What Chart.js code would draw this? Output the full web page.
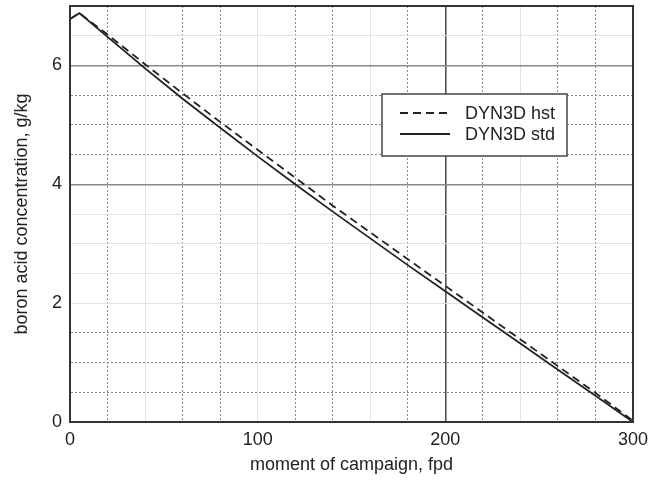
<!DOCTYPE html>
<html>
<head>
<meta charset="utf-8">
<script src="https://cdn.jsdelivr.net/npm/chart.js@4.4.1/dist/chart.umd.min.js"></script>
<style>
  html, body { margin: 0; padding: 0; background: #fff; }
  #wrap { width: 657px; height: 490px; position: relative; }
</style>
</head>
<body>
<div id="wrap"><canvas id="boronChart"></canvas></div>
<script>
// ===== boron acid vs campaign moment =====

const fpd = [0, 5, 20, 40, 60, 80, 100, 120, 140, 160, 180, 200, 220, 240, 260, 280, 300];
const hstValues = [6.78, 6.88, 6.52, 6.02, 5.53, 5.05, 4.58, 4.11, 3.64, 3.19, 2.74, 2.29, 1.84, 1.39, 0.94, 0.49, 0.02];
const stdValues = [6.78, 6.88, 6.48, 5.95, 5.44, 4.95, 4.47, 4.00, 3.54, 3.09, 2.64, 2.20, 1.76, 1.32, 0.88, 0.44, 0.0];
const seriesNames = ["DYN3D hst", "DYN3D std"];
const xTickLabels = [0, 100, 200, 300];
const yTickLabels = [0, 2, 4, 6];

// grid lines that look faint / solid in the scanned figure
const xFaint = [40, 100, 160, 240];
const xSolid = [200];
const yFaint = [2, 2.5, 3, 3.5, 6.5];
const ySolid = [4, 6];

function toPoints(xs, ys) {
  return xs.map((x, i) => ({ x: x, y: ys[i] }));
}

const tickFont = { family: "'Liberation Sans', Arial, sans-serif", size: 18 };
const titleFont = { family: "'Liberation Sans', Arial, sans-serif", size: 18 };

// frame around the plot + legend box inside the plot
const framePlugin = {
  id: "frame",
  afterDatasetsDraw(chart) {
    const { ctx, chartArea: a } = chart;
    ctx.save();
    ctx.strokeStyle = "#333";
    ctx.lineWidth = 2;
    ctx.strokeRect(a.left, a.top, a.right - a.left, a.bottom - a.top);

    // legend
    const bx = 382, by = 94, bw = 185, bh = 62;
    ctx.fillStyle = "#fff";
    ctx.fillRect(bx, by, bw, bh);
    ctx.strokeStyle = "#444";
    ctx.lineWidth = 1.5;
    ctx.strokeRect(bx, by, bw, bh);
    ctx.font = "18px 'Liberation Sans', Arial, sans-serif";
    ctx.textBaseline = "middle";
    chart.data.datasets.forEach((ds, i) => {
      const y = by + 19 + i * 21;
      ctx.strokeStyle = ds.borderColor;
      ctx.lineWidth = ds.borderWidth;
      ctx.setLineDash(ds.borderDash || []);
      ctx.beginPath();
      ctx.moveTo(bx + 18, y);
      ctx.lineTo(bx + 68, y);
      ctx.stroke();
      ctx.setLineDash([]);
      ctx.fillStyle = "#222";
      ctx.fillText(ds.label, bx + 83, y + 1);
    });
    ctx.restore();
  }
};

const ctx = document.getElementById("boronChart").getContext("2d");
new Chart(ctx, {
  type: "line",
  data: {
    datasets: [
      {
        label: seriesNames[0],
        data: toPoints(fpd, hstValues),
        borderColor: "#222",
        borderWidth: 1.8,
        borderDash: [8, 5],
        pointRadius: 0,
        tension: 0,
        fill: false
      },
      {
        label: seriesNames[1],
        data: toPoints(fpd, stdValues),
        borderColor: "#222",
        borderWidth: 1.8,
        pointRadius: 0,
        tension: 0,
        fill: false
      }
    ]
  },
  options: {
    responsive: true,
    maintainAspectRatio: false,
    animation: false,
    layout: { padding: { top: 6, right: 24, left: 0, bottom: 0 } },
    plugins: {
      legend: { display: false },
      tooltip: { enabled: false }
    },
    scales: {
      x: {
        type: "linear",
        min: 0,
        max: 300,
        afterFit(scale) { scale.height = 68; },
        ticks: {
          stepSize: 20,
          autoSkip: false,
          maxRotation: 0,
          padding: 7,
          color: "#222",
          font: tickFont,
          callback: (v) => (xTickLabels.includes(v) ? String(v) : "")
        },
        grid: {
          drawTicks: false,
          color: (c) => {
            const v = c.tick ? c.tick.value : null;
            if (xSolid.includes(v)) return "#555";
            if (xFaint.includes(v)) return "#e2e2e2";
            return "#8a8a8a";
          },
          lineWidth: (c) => (c.tick && xSolid.includes(c.tick.value) ? 1.6 : 1)
        },
        border: {
          display: true,
          color: "#333",
          width: 2,
          dash: (c) => {
            const v = c.tick ? c.tick.value : null;
            if (xSolid.includes(v) || xFaint.includes(v)) return [];
            return [2, 2];
          }
        },
        title: {
          display: true,
          text: "moment of campaign, fpd",
          color: "#222",
          font: titleFont,
          padding: { top: 0, bottom: 14 }
        }
      },
      y: {
        type: "linear",
        min: 0,
        max: 7,
        afterFit(scale) {
          scale.width = 70;
          scale.paddingTop = 0;
          scale.paddingBottom = 0;
        },
        ticks: {
          stepSize: 0.5,
          autoSkip: false,
          padding: 8,
          color: "#222",
          font: tickFont,
          callback: (v) => (yTickLabels.includes(v) ? String(v) : "")
        },
        grid: {
          drawTicks: false,
          color: (c) => {
            const v = c.tick ? c.tick.value : null;
            if (ySolid.includes(v)) return "#8a8a8a";
            if (yFaint.includes(v)) return "#e2e2e2";
            return "#8a8a8a";
          },
          lineWidth: (c) => (c.tick && ySolid.includes(c.tick.value) ? 1.5 : 1)
        },
        border: {
          display: true,
          color: "#333",
          width: 2,
          dash: (c) => {
            const v = c.tick ? c.tick.value : null;
            if (ySolid.includes(v) || yFaint.includes(v)) return [];
            return [2, 2];
          }
        },
        title: {
          display: true,
          text: "boron acid concentration, g/kg",
          color: "#222",
          font: titleFont,
          padding: { top: 11, bottom: 0 }
        }
      }
    }
  },
  plugins: [framePlugin]
});
</script>
</body>
</html>
